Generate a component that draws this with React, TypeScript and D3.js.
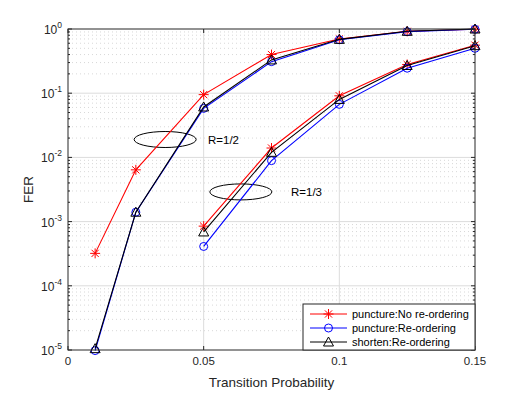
import { useEffect, useRef } from 'react';
import * as d3 from 'd3';

// transition probabilities on the x axis
const probs = [0.01, 0.025, 0.05, 0.075, 0.1, 0.125, 0.15];
const probsThird = [0.05, 0.075, 0.1, 0.125, 0.15];

// R = 1/2 curves
const halfPunctureNo = [3.2e-4, 6.4e-3, 0.095, 0.40, 0.70, 0.92, 0.99];
const halfPunctureRe = [0.98e-5, 1.4e-3, 0.058, 0.31, 0.68, 0.91, 0.99];
const halfShortenRe = [1.05e-5, 1.4e-3, 0.061, 0.33, 0.69, 0.92, 1.0];

// R = 1/3 curves
const thirdPunctureNo = [8.5e-4, 0.014, 0.091, 0.28, 0.56];
const thirdPunctureRe = [4.1e-4, 0.0089, 0.067, 0.245, 0.50];
const thirdShortenRe = [6.9e-4, 0.012, 0.080, 0.27, 0.55];

const xTicks = [0, 0.05, 0.1, 0.15];
const yExponents = [0, -1, -2, -3, -4, -5];

const seriesInfo = [
    { label: 'puncture:No re-ordering', color: '#ff0000', marker: 'star' },
    { label: 'puncture:Re-ordering', color: '#0000ff', marker: 'circle' },
    { label: 'shorten:Re-ordering', color: '#000000', marker: 'triangle' },
];

export default function App() {
    const ref = useRef<SVGSVGElement | null>(null);

    useEffect(() => {
        document.body.style.margin = '0';
        if (!ref.current) return;
        const svg = d3.select(ref.current);
        svg.selectAll('*').remove();

        const left = 68, right = 475, top = 29, bottom = 350;
        const font = 'Liberation Sans, Arial, sans-serif';
        const axisColor = '#262626';

        const x = d3.scaleLinear().domain([0, 0.15]).range([left, right]);
        const y = d3.scaleLog().domain([1e-5, 1]).range([bottom, top]);

        svg.append('rect')
            .attr('x', left).attr('y', top)
            .attr('width', right - left).attr('height', bottom - top)
            .attr('fill', '#fff');

        // minor grid (dotted)
        const minors: number[] = [];
        for (let e = -5; e < 0; e++) {
            for (let m = 2; m <= 9; m++) minors.push(m * Math.pow(10, e));
        }
        svg.append('g').selectAll('line').data(minors).enter().append('line')
            .attr('x1', left).attr('x2', right)
            .attr('y1', d => y(d)).attr('y2', d => y(d))
            .attr('stroke', '#bdbdbd').attr('stroke-width', 0.6)
            .attr('stroke-dasharray', '1,3');

        // major grid
        svg.append('g').selectAll('line').data(yExponents.slice(1, -1)).enter().append('line')
            .attr('x1', left).attr('x2', right)
            .attr('y1', d => y(Math.pow(10, d))).attr('y2', d => y(Math.pow(10, d)))
            .attr('stroke', '#dcdcdc').attr('stroke-width', 1);
        svg.append('g').selectAll('line').data(xTicks.slice(1, -1)).enter().append('line')
            .attr('x1', d => x(d)).attr('x2', d => x(d))
            .attr('y1', top).attr('y2', bottom)
            .attr('stroke', '#dcdcdc').attr('stroke-width', 1);

        // ellipses + annotations
        const ann = svg.append('g');
        ann.append('ellipse').attr('cx', x(0.0358)).attr('cy', y(0.019))
            .attr('rx', 31).attr('ry', 8).attr('fill', 'none').attr('stroke', '#000').attr('stroke-width', 1);
        ann.append('text').attr('x', 208).attr('y', y(0.019) + 4)
            .attr('font-family', font).attr('font-size', 11.5).text('R=1/2');
        ann.append('ellipse').attr('cx', x(0.0637)).attr('cy', y(0.0029))
            .attr('rx', 31).attr('ry', 8).attr('fill', 'none').attr('stroke', '#000').attr('stroke-width', 1);
        ann.append('text').attr('x', 291).attr('y', y(0.0029) + 4)
            .attr('font-family', font).attr('font-size', 11.5).text('R=1/3');

        const drawMarker = (g: any, kind: string, cx: number, cy: number, color: string) => {
            if (kind === 'star') {
                const s = 5, d = 3.6;
                const p = `M${cx - s},${cy}L${cx + s},${cy}M${cx},${cy - s}L${cx},${cy + s}` +
                    `M${cx - d},${cy - d}L${cx + d},${cy + d}M${cx - d},${cy + d}L${cx + d},${cy - d}`;
                g.append('path').attr('d', p).attr('stroke', color).attr('stroke-width', 1).attr('fill', 'none');
            } else if (kind === 'circle') {
                g.append('circle').attr('cx', cx).attr('cy', cy).attr('r', 4)
                    .attr('stroke', color).attr('stroke-width', 1).attr('fill', 'none');
            } else {
                const h = 5;
                g.append('path')
                    .attr('d', `M${cx},${cy - h}L${cx + h},${cy + h * 0.8}L${cx - h},${cy + h * 0.8}Z`)
                    .attr('stroke', color).attr('stroke-width', 1).attr('fill', 'none');
            }
        };

        const line = d3.line<[number, number]>().x(d => x(d[0])).y(d => y(d[1]));
        const groups = [
            { xs: probs, sets: [halfPunctureNo, halfPunctureRe, halfShortenRe] },
            { xs: probsThird, sets: [thirdPunctureNo, thirdPunctureRe, thirdShortenRe] },
        ];
        const plot = svg.append('g');
        seriesInfo.forEach((s, i) => {
            groups.forEach(grp => {
                const pts = grp.xs.map((v, j) => [v, grp.sets[i][j]] as [number, number]);
                plot.append('path').attr('d', line(pts)).attr('fill', 'none')
                    .attr('stroke', s.color).attr('stroke-width', 1.1);
                pts.forEach(p => drawMarker(plot, s.marker, x(p[0]), y(p[1]), s.color));
            });
        });

        // axes box + ticks
        const ax = svg.append('g').attr('stroke', axisColor).attr('stroke-width', 1);
        ax.append('rect').attr('x', left).attr('y', top)
            .attr('width', right - left).attr('height', bottom - top).attr('fill', 'none');
        xTicks.forEach(t => {
            ax.append('line').attr('x1', x(t)).attr('x2', x(t)).attr('y1', bottom).attr('y2', bottom - 4);
            ax.append('line').attr('x1', x(t)).attr('x2', x(t)).attr('y1', top).attr('y2', top + 4);
        });
        yExponents.forEach(e => {
            const yy = y(Math.pow(10, e));
            ax.append('line').attr('x1', left).attr('x2', left + 4).attr('y1', yy).attr('y2', yy);
            ax.append('line').attr('x1', right).attr('x2', right - 4).attr('y1', yy).attr('y2', yy);
        });
        minors.forEach(m => {
            const yy = y(m);
            ax.append('line').attr('x1', left).attr('x2', left + 2).attr('y1', yy).attr('y2', yy);
            ax.append('line').attr('x1', right).attr('x2', right - 2).attr('y1', yy).attr('y2', yy);
        });

        // tick labels
        svg.append('g').selectAll('text').data(xTicks).enter().append('text')
            .attr('x', d => x(d)).attr('y', bottom + 15)
            .attr('text-anchor', 'middle').attr('font-family', font).attr('font-size', 11.5)
            .attr('fill', axisColor).text(d => String(d));
        const yl = svg.append('g').selectAll('text').data(yExponents).enter().append('text')
            .attr('x', left - 6).attr('y', d => y(Math.pow(10, d)) + 5)
            .attr('text-anchor', 'end').attr('font-family', font).attr('font-size', 12)
            .attr('fill', axisColor);
        yl.append('tspan').text('10');
        yl.append('tspan').attr('dy', -6).attr('font-size', 8.5).text(d => String(d));

        // axis titles
        svg.append('text').attr('x', (left + right) / 2).attr('y', 387)
            .attr('text-anchor', 'middle').attr('font-family', font).attr('font-size', 13.5)
            .attr('fill', axisColor).text('Transition Probability');
        svg.append('text').attr('transform', `translate(33,${(top + bottom) / 2}) rotate(-90)`)
            .attr('text-anchor', 'middle').attr('font-family', font).attr('font-size', 13.5)
            .attr('fill', axisColor).text('FER');

        // legend
        const lg = svg.append('g');
        lg.append('rect').attr('x', 303).attr('y', 304).attr('width', right - 303).attr('height', bottom - 304)
            .attr('fill', '#fff').attr('stroke', axisColor).attr('stroke-width', 1);
        seriesInfo.forEach((s, i) => {
            const ly = 314 + i * 14;
            lg.append('line').attr('x1', 310).attr('x2', 347).attr('y1', ly).attr('y2', ly)
                .attr('stroke', s.color).attr('stroke-width', 1);
            drawMarker(lg, s.marker, 328.5, ly, s.color);
            lg.append('text').attr('x', 352).attr('y', ly + 4)
                .attr('font-family', font).attr('font-size', 11).attr('fill', '#000').text(s.label);
        });
    }, []);

    return <svg ref={ref} width={525} height={394} style={{ display: 'block' }} />;
}
